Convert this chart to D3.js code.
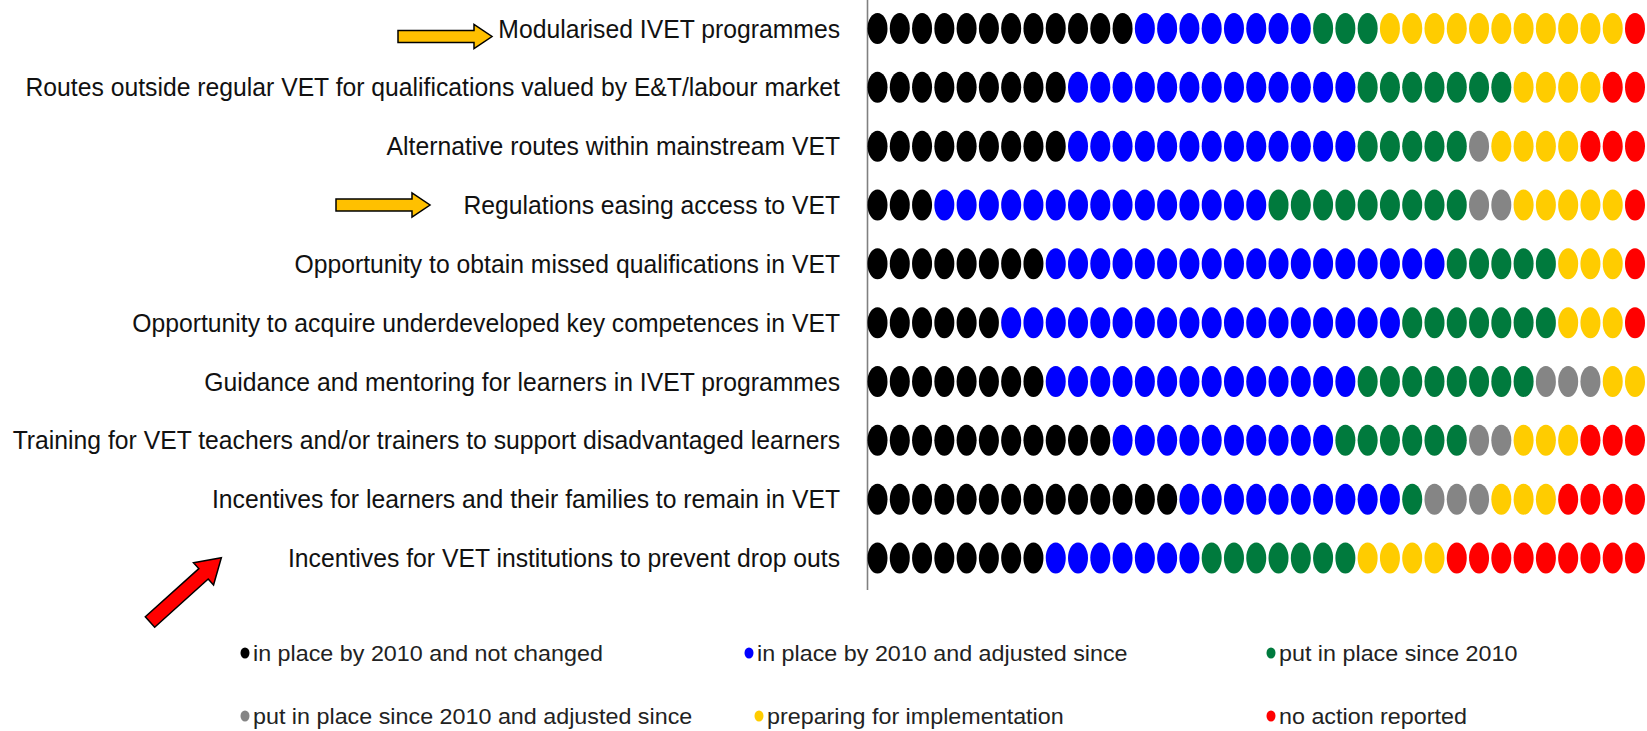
<!DOCTYPE html>
<html>
<head>
<meta charset="utf-8">
<script src="https://cdn.jsdelivr.net/npm/d3@7"></script>
<style>
  body { margin: 0; background: #fff; }
  svg { display: block; }
</style>
</head>
<body>
<div id="chart"></div>
<script>
const categories = [
  'Modularised IVET programmes',
  'Routes outside regular VET for qualifications valued by E&T/labour market',
  'Alternative routes within mainstream VET',
  'Regulations easing access to VET',
  'Opportunity to obtain missed qualifications in VET',
  'Opportunity to acquire underdeveloped key competences in VET',
  'Guidance and mentoring for learners in IVET programmes',
  'Training for VET teachers and/or trainers to support disadvantaged learners',
  'Incentives for learners and their families to remain in VET',
  'Incentives for VET institutions to prevent drop outs'
];

// number of countries per status, one entry per category
const notChanged  = [12, 9, 9, 3, 8, 6, 8, 11, 14, 8];
const adjusted    = [8, 13, 13, 15, 18, 18, 14, 10, 10, 7];
const putInPlace  = [3, 7, 5, 9, 5, 7, 8, 6, 1, 7];
const putAdjusted = [0, 0, 1, 2, 0, 0, 3, 2, 3, 0];
const preparing   = [11, 4, 4, 5, 3, 3, 2, 3, 3, 4];
const noAction    = [1, 2, 3, 1, 1, 1, 0, 3, 4, 9];

const statusLabels = [
  'in place by 2010 and not changed',
  'in place by 2010 and adjusted since',
  'put in place since 2010',
  'put in place since 2010 and adjusted since',
  'preparing for implementation',
  'no action reported'
];
const statusColors = ['#000000', '#0000ff', '#007a3d', '#858585', '#ffcc00', '#ff0000'];

const series = [notChanged, adjusted, putInPlace, putAdjusted, preparing, noAction];
const highlighted = ['Modularised IVET programmes', 'Regulations easing access to VET'];

const width = 1647, height = 731;
const font = '"Liberation Sans Narrow", "Arial Narrow", "Liberation Sans", sans-serif';

const svg = d3.select('#chart').append('svg')
  .attr('width', width)
  .attr('height', height);

const y = d3.scalePoint().domain(categories).range([28.5, 558]);
const x = d3.scaleLinear().domain([0, 34]).range([877.5, 1635]);
const color = d3.scaleOrdinal().domain(statusLabels).range(statusColors);

// one dot per country, laid out status after status
const dots = [];
categories.forEach((c, i) => {
  let pos = 0;
  series.forEach((s, k) => {
    for (let n = 0; n < s[i]; n++) dots.push({ cat: c, status: statusLabels[k], pos: pos++ });
  });
});

const blur = svg.append('defs').append('filter').attr('id', 'soft');
blur.append('feGaussianBlur').attr('stdDeviation', 0.7);

// category labels (narrow face, squeezed so the longest fits like the original)
const labels = svg.append('g')
  .selectAll('text')
  .data(categories)
  .join('text')
  .attr('dy', '0.35em')
  .attr('text-anchor', 'end')
  .attr('font-family', font)
  .attr('font-size', 26)
  .attr('fill', '#111')
  .text(d => d);

const widest = d3.max(labels.nodes(), n => n.getComputedTextLength());
const squeeze = Math.min(1, 828 / widest);
labels.attr('transform', d => `translate(840,${y(d)}) scale(${squeeze},1)`);

// separator line
svg.append('line')
  .attr('x1', 867.5).attr('x2', 867.5)
  .attr('y1', 0).attr('y2', 590)
  .attr('stroke', '#808080')
  .attr('stroke-width', 1.6);

// dots
svg.append('g')
  .attr('filter', 'url(#soft)')
  .selectAll('ellipse')
  .data(dots)
  .join('ellipse')
  .attr('cx', d => x(d.pos))
  .attr('cy', d => y(d.cat))
  .attr('rx', 10)
  .attr('ry', 15.5)
  .attr('fill', d => color(d.status));

// block arrows (annotations)
const arrowPath = (len, shaft, head, headLen) =>
  `M0,${-shaft}H${len - headLen}V${-head}L${len},0L${len - headLen},${head}V${shaft}H0Z`;

svg.append('g').selectAll('path')
  .data(highlighted)
  .join('path')
  .attr('transform', (d, i) => i === 0
    ? `translate(398,${y(d) + 8})`
    : `translate(336,${y(d) + 0})`)
  .attr('d', arrowPath(94, 6, 12, 18))
  .attr('fill', '#ffc000')
  .attr('stroke', '#000')
  .attr('stroke-width', 1.5);

const last = categories[categories.length - 1];
svg.append('path')
  .attr('transform', `translate(150,${y(last) + 64}) rotate(-42)`)
  .attr('d', arrowPath(96, 7, 15, 24))
  .attr('fill', '#ff0000')
  .attr('stroke', '#000')
  .attr('stroke-width', 1.5);

// legend
const legendX = [245, 749, 1271, 245, 759, 1271];
const legendY = [653, 653, 653, 716, 716, 716];
const legend = svg.append('g')
  .selectAll('g')
  .data(statusLabels)
  .join('g')
  .attr('transform', (d, i) => `translate(${legendX[i]},${legendY[i]})`);

legend.append('ellipse')
  .attr('rx', 4.5).attr('ry', 5.5)
  .attr('fill', d => color(d));

legend.append('text')
  .attr('transform', 'translate(8,0) scale(1.06,1)')
  .attr('dy', '0.35em')
  .attr('font-family', font)
  .attr('font-size', 22)
  .attr('fill', '#222')
  .text(d => d);
</script>
</body>
</html>
